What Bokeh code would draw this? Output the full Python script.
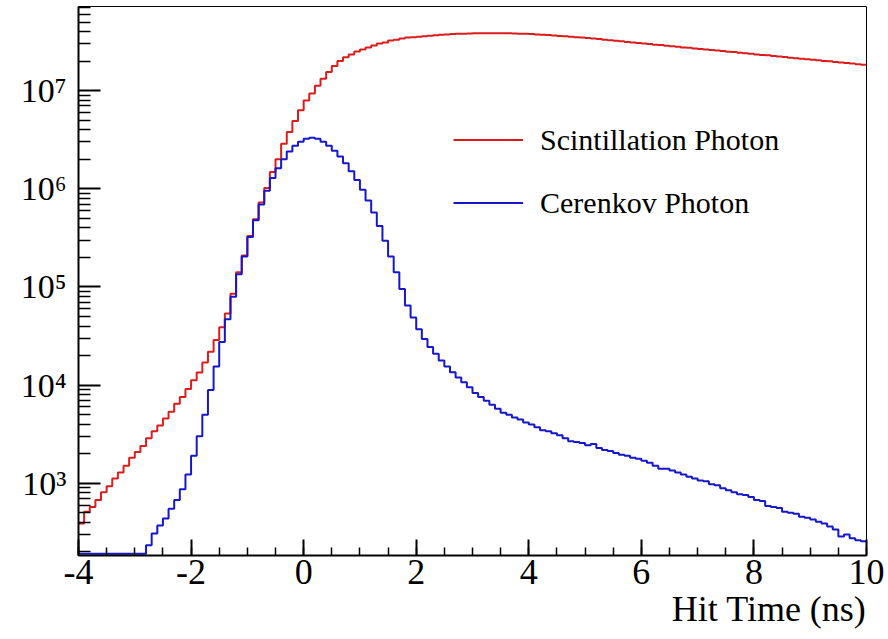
import numpy as np
from bokeh.plotting import figure
from bokeh.models import (FixedTicker, CustomJSTickFormatter, Range1d, Title,
                          Legend, LegendItem)
from bokeh.embed import file_html
from bokeh.resources import INLINE

# ---------------- data ----------------
t_min = -4.0
t_max = 10.0
n_bins = 140

series_names = ["Scintillation Photon", "Cerenkov Photon"]

scintillation = [
    389, 513, 575, 676, 813, 933, 1122, 1288, 1514, 1820,
    2089, 2399, 2884, 3388, 3890, 4571, 5370, 6457, 7586, 9120,
    1.122e4, 1.349e4, 1.698e4, 2.188e4, 2.884e4, 3.89e4, 5.37e4, 8.51e4, 1.41e5, 2.09e5,
    3.31e5, 4.90e5, 7.24e5, 1.02e6, 1.48e6, 2.00e6, 2.88e6, 3.80e6, 4.90e6, 6.31e6,
    7.94e6, 9.33e6, 1.12e7, 1.32e7, 1.55e7, 1.78e7, 2.00e7, 2.19e7, 2.34e7, 2.51e7,
    2.63e7, 2.75e7, 2.88e7, 3.02e7, 3.09e7, 3.24e7, 3.31e7, 3.39e7, 3.47e7, 3.51e7,
    3.55e7, 3.59e7, 3.63e7, 3.67e7, 3.72e7, 3.74e7, 3.77e7, 3.79e7, 3.81e7, 3.83e7,
    3.84e7, 3.85e7, 3.85e7, 3.85e7, 3.85e7, 3.85e7, 3.84e7, 3.83e7, 3.81e7, 3.79e7,
    3.77e7, 3.74e7, 3.72e7, 3.68e7, 3.65e7, 3.61e7, 3.58e7, 3.55e7, 3.51e7, 3.47e7,
    3.43e7, 3.39e7, 3.35e7, 3.30e7, 3.26e7, 3.22e7, 3.18e7, 3.14e7, 3.10e7, 3.06e7,
    3.02e7, 2.99e7, 2.94e7, 2.91e7, 2.87e7, 2.83e7, 2.80e7, 2.76e7, 2.73e7, 2.69e7,
    2.66e7, 2.62e7, 2.59e7, 2.56e7, 2.53e7, 2.49e7, 2.47e7, 2.43e7, 2.40e7, 2.37e7,
    2.34e7, 2.31e7, 2.29e7, 2.25e7, 2.23e7, 2.20e7, 2.17e7, 2.14e7, 2.12e7, 2.09e7,
    2.07e7, 2.04e7, 2.01e7, 1.99e7, 1.96e7, 1.94e7, 1.91e7, 1.89e7, 1.86e7, 1.84e7,
]

cerenkov = [
    0, 0, 0, 0, 0, 0, 0, 0, 0, 0,
    0, 0, 234, 309, 372, 437, 550, 676, 871, 1230,
    1905, 3020, 5010, 8910, 1.55e4, 2.75e4, 4.68e4, 7.94e4, 1.35e5, 2.04e5,
    3.24e5, 4.79e5, 6.92e5, 9.55e5, 1.29e6, 1.62e6, 2.00e6, 2.40e6, 2.75e6, 3.02e6,
    3.24e6, 3.31e6, 3.24e6, 3.02e6, 2.75e6, 2.45e6, 2.14e6, 1.82e6, 1.51e6, 1.23e6,
    9.77e5, 7.59e5, 5.75e5, 4.17e5, 2.95e5, 2.04e5, 1.41e5, 9.55e4, 6.46e4, 4.90e4,
    3.72e4, 2.95e4, 2.45e4, 2.09e4, 1.78e4, 1.55e4, 1.35e4, 1.20e4, 1.07e4, 9550,
    8320, 7590, 6920, 6310, 5750, 5250, 5010, 4680, 4470, 4170,
    3980, 3720, 3470, 3390, 3240, 3090, 2880, 2690, 2630, 2570,
    2450, 2510, 2290, 2190, 2140, 2040, 1950, 1910, 1820, 1780,
    1700, 1620, 1510, 1410, 1410, 1350, 1290, 1230, 1170, 1120,
    1070, 1050, 977, 955, 891, 851, 813, 776, 759, 724,
    676, 661, 589, 575, 562, 513, 501, 490, 457, 447,
    427, 407, 389, 363, 339, 288, 302, 275, 263, 257,
]

x_major_ticks = [-4, -2, 0, 2, 4, 6, 8, 10]
y_major_ticks = [1e3, 1e4, 1e5, 1e6, 1e7]
x_label = "Hit Time (ns)"

y_lo, y_hi = 184, 7.2e7

# ---------------- figure ----------------
W, H = 888, 639
ML, MR, MT, MB = 78, 22, 6, 84

p = figure(width=W, height=H, y_axis_type="log",
           x_range=Range1d(t_min, t_max), y_range=Range1d(y_lo, y_hi),
           output_backend="svg", toolbar_location=None,
           min_border_left=ML, min_border_right=MR,
           min_border_top=MT, min_border_bottom=MB)
p.background_fill_color = "white"
p.border_fill_color = "white"
p.outline_line_color = "black"
p.outline_line_width = 1
p.xgrid.visible = False
p.ygrid.visible = False

edges = np.linspace(t_min, t_max, n_bins + 1)
floor = y_lo * 1.04

def step_y(vals):
    v = np.maximum(np.asarray(vals, dtype=float), floor)
    return np.append(v, v[-1])

red = "#dc1c1c"
blue = "#1616cc"
r1 = p.step(edges, step_y(scintillation), mode="after", line_color=red, line_width=2)
r2 = p.step(edges, step_y(cerenkov), mode="after", line_color=blue, line_width=2)

# axes
x_minor = list(np.arange(t_min, t_max + 0.01, 0.5))
y_minor = [m * 10.0 ** e for e in range(2, 8) for m in range(2, 10)
           if y_lo <= m * 10.0 ** e <= y_hi]

xa = p.xaxis[0]
ya = p.yaxis[0]
xa.ticker = FixedTicker(ticks=x_major_ticks, minor_ticks=x_minor)
ya.ticker = FixedTicker(ticks=y_major_ticks, minor_ticks=y_minor)
xa.formatter = CustomJSTickFormatter(code="return String(tick);")
ya.formatter = CustomJSTickFormatter(code="""
const sup = {"2":"\u00b2","3":"\u00b3","4":"\u2074","5":"\u2075","6":"\u2076","7":"\u2077","8":"\u2078"};
const e = Math.round(Math.log10(tick));
return "10" + sup[String(e)];
""")

for ax in (xa, ya):
    ax.axis_line_width = 2
    ax.axis_line_color = "black"
    ax.major_tick_out = 0
    ax.minor_tick_out = 0
    ax.major_tick_line_width = 2
    ax.minor_tick_line_width = 1.5
    ax.major_tick_line_color = "black"
    ax.minor_tick_line_color = "black"
    ax.major_label_text_font = "Liberation Serif"
    ax.major_label_text_color = "black"

xa.major_tick_in = 16
xa.minor_tick_in = 8
xa.major_label_text_font_size = "36px"
xa.major_label_standoff = 4

ya.major_tick_in = 22
ya.minor_tick_in = 12
ya.major_label_text_font_size = "34px"
ya.major_label_standoff = 12

p.add_layout(Title(text=x_label, align="right", standoff=0,
                   text_font="Liberation Serif", text_font_size="36px",
                   text_font_style="normal", text_color="black"), "below")

legend = Legend(items=[LegendItem(label=series_names[0], renderers=[r1]),
                       LegendItem(label=series_names[1], renderers=[r2])],
                location=(375, 330), orientation="vertical",
                border_line_color=None, background_fill_alpha=0,
                padding=0, margin=0, spacing=18,
                glyph_width=70, glyph_height=45, label_height=45,
                label_standoff=17,
                label_text_font="Liberation Serif", label_text_font_size="30px",
                label_text_color="black")
p.add_layout(legend)

open("out.html", "w").write(file_html(p, INLINE))
